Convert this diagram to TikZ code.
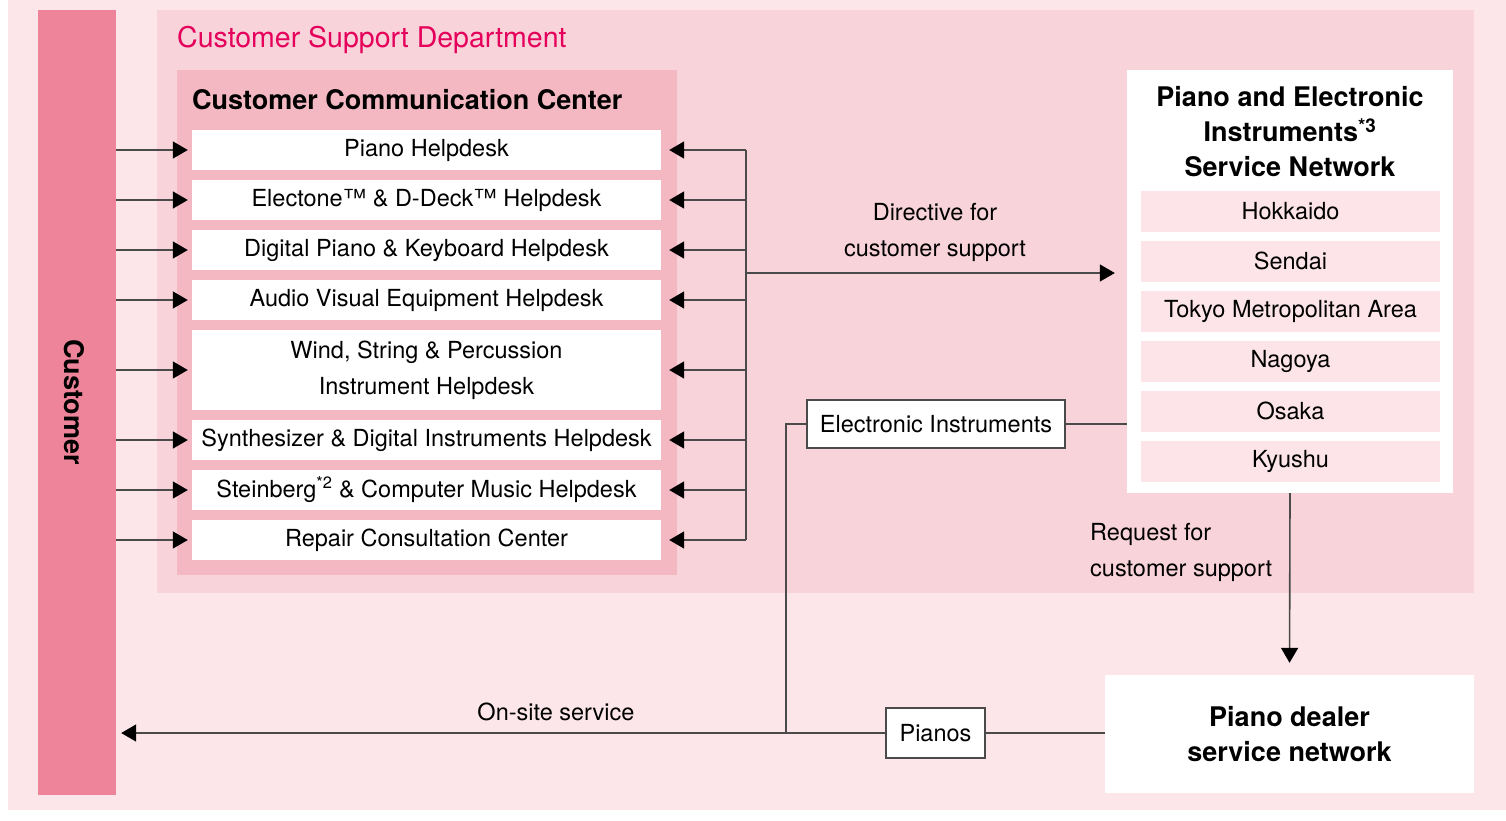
\documentclass[tikz,border=0pt]{standalone}
\usepackage{fontspec}
\setmainfont{TeX Gyre Heros}
\usetikzlibrary{arrows.meta}
\definecolor{bgpink}{HTML}{FCE6EA}
\definecolor{barpink}{HTML}{EE8499}
\definecolor{deptpink}{HTML}{F8D3D9}
\definecolor{cccpink}{HTML}{F3B8C2}
\definecolor{regpink}{HTML}{FCE4E8}
\definecolor{magentat}{HTML}{E4005B}
\definecolor{linec}{HTML}{4A4A4A}
\begin{document}
\begin{tikzpicture}[x=1pt,y=-1pt,
  txt/.style={font=\fontsize{23.5}{36}\selectfont, text=black, align=center, inner sep=0pt},
  btxt/.style={font=\fontsize{27}{35}\selectfont\bfseries, text=black, align=center, inner sep=0pt},
  desk/.style={txt, fill=white, minimum width=469pt, minimum height=40pt},
  reg/.style={txt, fill=regpink, minimum width=299pt, minimum height=41pt},
  tag/.style={txt, fill=white, draw=linec, line width=1.2pt},
  conn/.style={draw=linec, line width=1.6pt},
  arr/.style={conn, -{Triangle[length=15pt,width=17pt,fill=black,color=black]}}
]
\useasboundingbox (0,0) rectangle (1506,820);
\fill[white] (0,0) rectangle (1506,820);
\fill[bgpink] (8,0) rectangle (1506,810);
% department
\fill[deptpink] (157,10) rectangle (1474,593);
\node[anchor=west, font=\fontsize{28.5}{34}\selectfont, text=magentat, inner sep=0pt] (deptt) at (177,40) {Customer Support Department};
% customer bar
\node[fill=barpink, minimum width=78pt, minimum height=785pt, inner sep=0pt] (cust) at (77,402.5) {};
\node[btxt, rotate=-90] (custt) at (74,402) {Customer};
% communication center
\fill[cccpink] (177,70) rectangle (677,575);
\node[btxt, anchor=west] (ccct) at (192,100) {Customer Communication Center};
\node[desk] (d1) at (426.5,150) {Piano Helpdesk};
\node[desk] (d2) at (426.5,200) {Electone™ \& D-Deck™ Helpdesk};
\node[desk] (d3) at (426.5,250) {Digital Piano \& Keyboard Helpdesk};
\node[desk] (d4) at (426.5,300) {Audio Visual Equipment Helpdesk};
\node[desk, minimum height=80pt] (d5) at (426.5,370) {Wind, String \& Percussion\\Instrument Helpdesk};
\node[desk] (d6) at (426.5,440) {Synthesizer \& Digital Instruments Helpdesk};
\node[desk] (d7) at (426.5,490) {Steinberg\textsuperscript{*2} \& Computer Music Helpdesk};
\node[desk] (d8) at (426.5,540) {Repair Consultation Center};
% arrows customer -> desks
\foreach \d in {d1,d2,d3,d4,d5,d6,d7,d8}{
  \draw[arr, shorten >=4pt] (cust.east |- \d.west) -- (\d.west);
}
\coordinate (bus) at (746,0);
\foreach \d in {d1,d2,d3,d4,d5,d6,d7,d8}{
  \draw[arr, shorten >=8pt] (bus |- \d.east) -- (\d.east);
}
\draw[conn] (bus |- d1.east) -- (bus |- d8.east);
% service network
\node[fill=white, minimum width=326pt, minimum height=423pt, inner sep=0pt] (net) at (1290,281.5) {};
\node[btxt] (nett) at (1290,132) {Piano and Electronic\\Instruments\textsuperscript{*3}\\Service Network};
\node[reg] (r1) at (1290.5,211) {Hokkaido};
\node[reg] (r2) at (1290.5,261) {Sendai};
\node[reg] (r3) at (1290.5,311) {Tokyo Metropolitan Area};
\node[reg] (r4) at (1290.5,361) {Nagoya};
\node[reg] (r5) at (1290.5,411) {Osaka};
\node[reg] (r6) at (1290.5,461) {Kyushu};
% directive
\coordinate (dirs) at (746,273);
\draw[arr, shorten >=12pt] (dirs) -- (net.west |- dirs);
\node[txt] (dirl) at (935,232) {Directive for\\customer support};
% electronic instruments
\node[tag, minimum width=258pt, minimum height=48pt] (ei) at (936,424) {Electronic Instruments};
\draw[conn] (ei.east) -- (net.west |- ei.east);
% dealer
\node[fill=white, minimum width=369pt, minimum height=118pt, btxt] (dealer) at (1289.5,734) {Piano dealer\\service network};
\draw[arr, shorten >=12pt] (net.south) -- (dealer.north);
\node[txt, align=left, anchor=west] (reql) at (1090,552) {Request for\\customer support};
% pianos
\node[tag, minimum width=99pt, minimum height=50pt] (pianos) at (935.5,733) {Pianos};
\draw[conn] (dealer.west |- pianos.east) -- (pianos.east);
\draw[arr, shorten >=5pt] (pianos.west) -- (cust.east |- pianos.west);
\coordinate (junc) at (786,733);
\draw[conn] (ei.west) -| (junc);
\node[txt] (onl) at (556,712) {On-site service};
\end{tikzpicture}
\end{document}
